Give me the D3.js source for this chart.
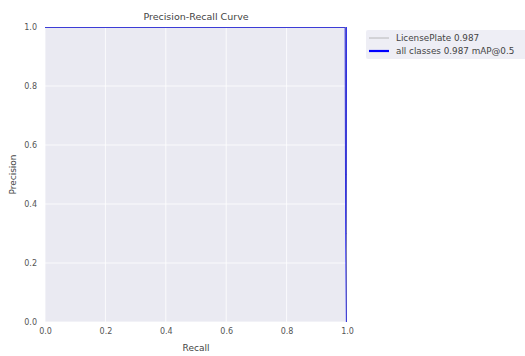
<!DOCTYPE html>
<html>
<head>
<meta charset="utf-8">
<script src="https://cdn.jsdelivr.net/npm/d3@7"></script>
<style>
  body { margin: 0; background: #fff; }
  svg { display: block; font-family: "DejaVu Sans", sans-serif; }
</style>
</head>
<body>
<svg id="chart" width="525" height="356"></svg>
<script>
// PR curve values
const recallVals = [0.0, 0.996, 0.997, 0.998, 1.0];
const plateVals = [1.0, 1.0, 0.5, 0.3, 0.0];
const allVals = [1.0, 1.0, 0.5, 0.3, 0.0];
const xTicks = [0.0, 0.2, 0.4, 0.6, 0.8, 1.0];
const yTicks = [0.0, 0.2, 0.4, 0.6, 0.8, 1.0];
const seriesNames = ['LicensePlate 0.987', 'all classes 0.987 mAP@0.5'];

const margin = { top: 27, left: 45 };
const plotW = 302;
const plotH = 295;

const svg = d3.select('#chart');
const g = svg.append('g').attr('transform', `translate(${margin.left},${margin.top})`);

const x = d3.scaleLinear().domain([0, 1]).range([0, plotW]);
const y = d3.scaleLinear().domain([0, 1]).range([plotH, 0]);

// background
g.append('rect')
  .attr('width', plotW)
  .attr('height', plotH)
  .attr('fill', '#eaeaf2');

// grid
g.append('g')
  .selectAll('line')
  .data(xTicks)
  .join('line')
  .attr('x1', d => x(d)).attr('x2', d => x(d))
  .attr('y1', 0).attr('y2', plotH)
  .attr('stroke', '#fff').attr('stroke-width', 0.8);

g.append('g')
  .selectAll('line')
  .data(yTicks)
  .join('line')
  .attr('x1', 0).attr('x2', plotW)
  .attr('y1', d => y(d)).attr('y2', d => y(d))
  .attr('stroke', '#fff').attr('stroke-width', 0.8);

// axes (labels only, no domain)
const xAxis = g.append('g')
  .attr('transform', `translate(0,${plotH})`)
  .call(d3.axisBottom(x).tickValues(xTicks).tickFormat(d3.format('.1f')).tickSize(0).tickPadding(6));
const yAxis = g.append('g')
  .call(d3.axisLeft(y).tickValues(yTicks).tickFormat(d3.format('.1f')).tickSize(0).tickPadding(8));
[xAxis, yAxis].forEach(a => {
  a.select('.domain').remove();
  a.selectAll('text').attr('font-size', 8).attr('fill', '#555').attr('font-family', '"DejaVu Sans", sans-serif');
});

// clip
svg.append('clipPath').attr('id', 'clip')
  .append('rect').attr('width', plotW).attr('height', plotH);

const line = d3.line()
  .x((d, i) => x(recallVals[i]))
  .y(d => y(d));

const lines = g.append('g').attr('clip-path', 'url(#clip)');
lines.append('path')
  .datum(allVals)
  .attr('fill', 'none')
  .attr('stroke', '#0000ff')
  .attr('stroke-width', 2.2)
  .attr('d', line);
lines.append('path')
  .datum(plateVals)
  .attr('fill', 'none')
  .attr('stroke', '#9a9a9a')
  .attr('stroke-width', 0.8)
  .attr('d', line);

// title and labels
svg.append('text')
  .attr('x', margin.left + plotW / 2)
  .attr('y', 20)
  .attr('text-anchor', 'middle')
  .attr('font-size', 9.5)
  .attr('fill', '#444')
  .text('Precision-Recall Curve');

svg.append('text')
  .attr('x', margin.left + plotW / 2)
  .attr('y', 351)
  .attr('text-anchor', 'middle')
  .attr('font-size', 9)
  .attr('fill', '#444')
  .text('Recall');

svg.append('text')
  .attr('transform', `translate(16,${margin.top + plotH / 2}) rotate(-90)`)
  .attr('text-anchor', 'middle')
  .attr('font-size', 9)
  .attr('fill', '#444')
  .text('Precision');

// legend
const legend = svg.append('g').attr('transform', 'translate(366,30)');
legend.append('rect')
  .attr('width', 170)
  .attr('height', 29)
  .attr('rx', 2)
  .attr('fill', '#eaeaf2')
  .attr('opacity', 0.8);

const legendColors = ['#a8a8a8', '#0000ff'];
const legendWidths = [0.8, 2.2];
const items = legend.selectAll('.item')
  .data(seriesNames)
  .join('g')
  .attr('class', 'item')
  .attr('transform', (d, i) => `translate(0,${8 + i * 13})`);
items.append('line')
  .attr('x1', 3).attr('x2', 23)
  .attr('stroke', (d, i) => legendColors[i])
  .attr('stroke-width', (d, i) => legendWidths[i]);
items.append('text')
  .attr('x', 30)
  .attr('dy', '0.35em')
  .attr('font-size', 8.8)
  .attr('fill', '#444')
  .text(d => d);
</script>
</body>
</html>
